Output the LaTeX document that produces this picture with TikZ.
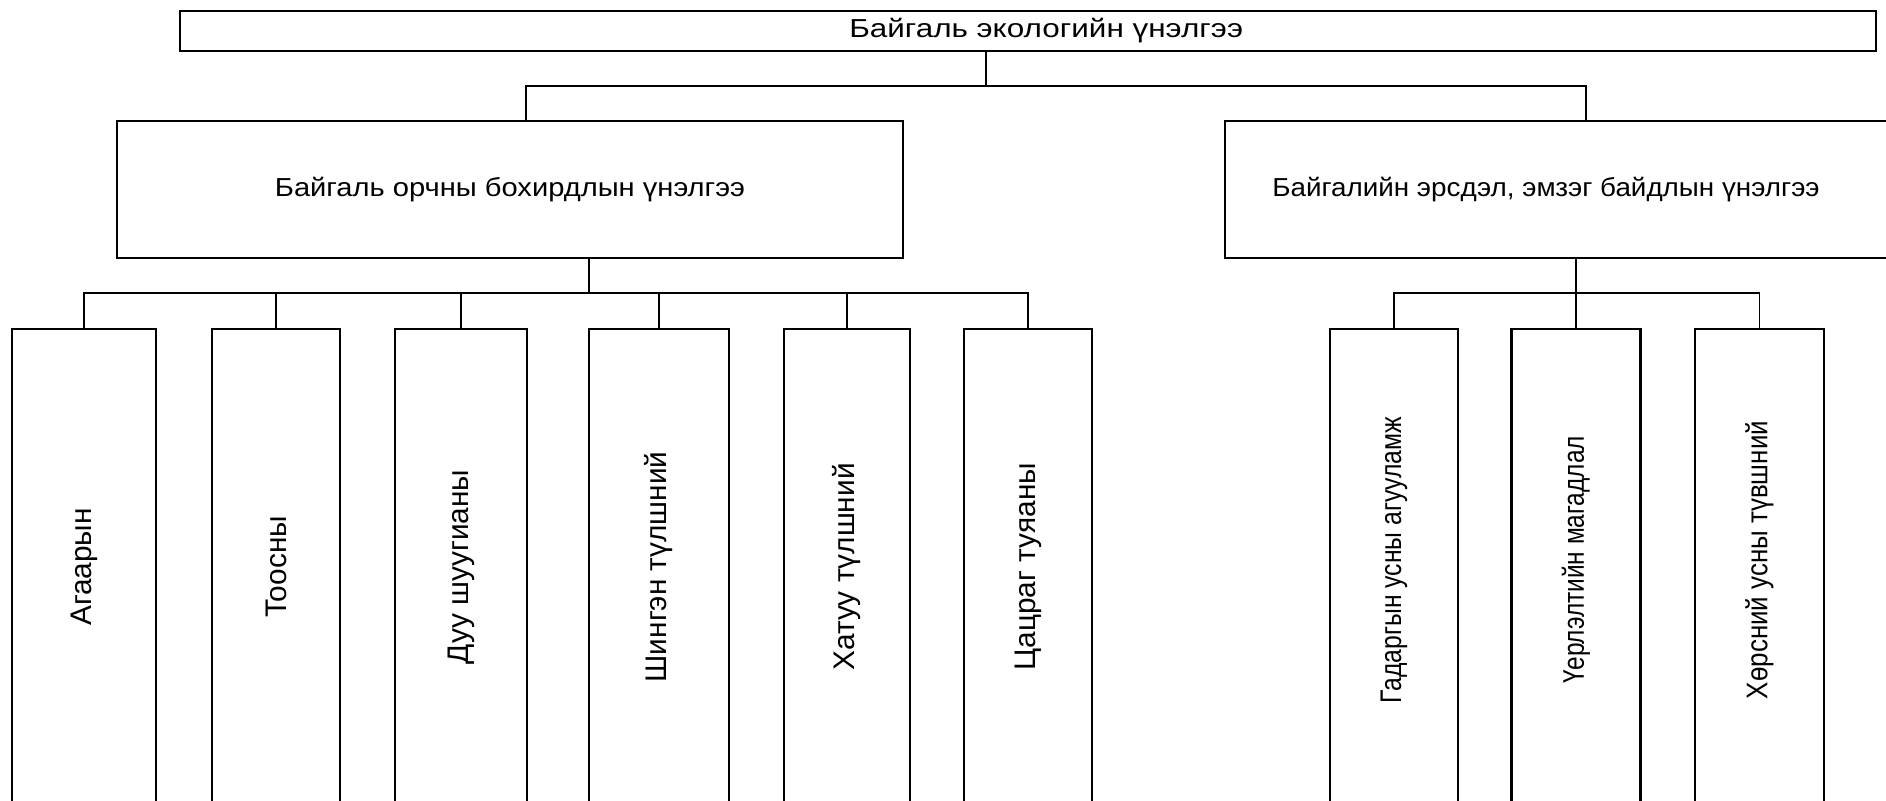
\documentclass[tikz,border=0pt]{standalone}
\usepackage{fontspec}
\setmainfont{Liberation Sans}
\usepackage{tikz}

\begin{document}
\begin{tikzpicture}[x=1pt,y=-1pt,line width=1.4pt,
  box/.style={draw,line width=2.2pt,inner sep=0pt,font=\fontsize{26}{31}\selectfont},
  col/.style={draw,line width=2.2pt,inner sep=0pt,minimum height=476pt,font=\fontsize{29.8}{34}\selectfont}]
\useasboundingbox (0,0) rectangle (1886,800);
\node[box,minimum width=1696pt,minimum height=40pt] (eco) at (1028,31) {\scalebox{1.21}[1]{\hspace*{30pt}Байгаль экологийн үнэлгээ}};
\node[box,minimum width=786pt,minimum height=137pt] (poll) at (510,189.5) {\scalebox{1.12}[1]{Байгаль орчны бохирдлын үнэлгээ}};
\node[box,minimum width=680pt,minimum height=137pt] (risk) at (1565,189.5) {\scalebox{1.07}[1]{Байгалийн эрсдэл, эмзэг байдлын үнэлгээ\hspace*{35.5pt}}};
\node[col,minimum width=144pt] (a1) at (84,567) {\rotatebox{90}{Агаарын}};
\node[col,minimum width=128pt] (a2) at (276,567) {\rotatebox{90}{Тоосны}};
\node[col,minimum width=132pt] (a3) at (461,567) {\rotatebox{90}{Дуу шуугианы}};
\node[col,minimum width=140pt] (a4) at (659,567) {\rotatebox{90}{Шингэн түлшний}};
\node[col,minimum width=126pt] (a5) at (847,567) {\rotatebox{90}{Хатуу түлшний}};
\node[col,minimum width=128pt] (a6) at (1028,567) {\rotatebox{90}{Цацраг туяаны}};
\node[col,minimum width=128pt] (b1) at (1394,567) {\rotatebox{90}{\hspace*{14pt}\scalebox{0.83}[1]{Гадаргын усны агууламж}}};
\node[col,minimum width=129pt] (b2) at (1576,567) {\rotatebox{90}{\hspace*{14pt}\scalebox{0.82}[1]{Үерлэлтийн магадлал}}};
\node[col,minimum width=129pt] (b3) at (1759.5,567) {\rotatebox{90}{\hspace*{14pt}\scalebox{0.87}[1]{Хөрсний усны түвшний}}};
\coordinate (j0) at (986,86);
\coordinate (jl) at (526,86);
\coordinate (jr) at (1586,86);
\coordinate (j1) at (589,293);
\coordinate (j2) at (1576,293);
\draw (j0 |- eco.south) -- (j0);
\draw (jl |- poll.north) -- (jl) -- (jr) -- (jr |- risk.north);
\draw (j1 |- poll.south) -- (j1);
\draw (a1.north) -- (a1.north |- j1) -- (a6.north |- j1) -- (a6.north);
\draw (a2.north) -- (a2.north |- j1);
\draw (a3.north) -- (a3.north |- j1);
\draw (a4.north) -- (a4.north |- j1);
\draw (a5.north) -- (a5.north |- j1);
\draw (j2 |- risk.south) -- (j2);
\draw (b1.north) -- (b1.north |- j2) -- (b3.north |- j2) -- (b3.north);
\draw (b2.north) -- (b2.north |- j2);
\end{tikzpicture}
\end{document}
